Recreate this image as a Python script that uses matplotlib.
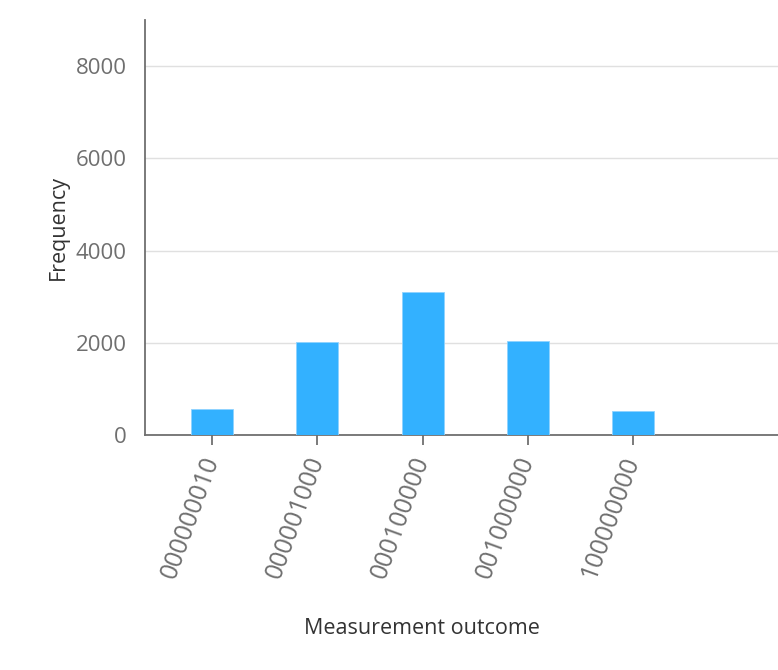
import matplotlib
matplotlib.use('Agg')
import matplotlib.pyplot as plt

# data
outcomes = ['000000010', '000001000', '000100000', '001000000', '100000000']
counts = [560, 2020, 3100, 2040, 520]
y_ticks = [0, 2000, 4000, 6000, 8000]

plt.rcParams['font.family'] = ['Open Sans', 'DejaVu Sans']

fig = plt.figure(figsize=(7.78, 6.70), dpi=100)
ax = fig.add_axes([0.1864, 0.3507, 0.8136, 0.6194])

x = list(range(len(outcomes)))
ax.bar(x, counts, width=0.4, color='#33b1ff', edgecolor='#8fd3ff', linewidth=0.6, zorder=3)

ax.set_xlim(-0.64, 5.38)
ax.set_ylim(0, 9000)
ax.set_yticks(y_ticks)
ax.set_xticks(x)
ax.set_xticklabels(outcomes, rotation=70, rotation_mode='anchor', ha='right', va='center',
                   fontsize=18)

ax.yaxis.grid(True, color='#e0e0e0', linewidth=1, zorder=0)
ax.set_axisbelow(True)

for side in ['top', 'right']:
    ax.spines[side].set_visible(False)
for side in ['left', 'bottom']:
    ax.spines[side].set_color('#6f6f6f')
    ax.spines[side].set_linewidth(1.3)

ax.tick_params(axis='both', colors='#6f6f6f', length=7, width=1.3)
ax.tick_params(axis='y', length=0, pad=13, labelsize=16)
ax.tick_params(axis='x', pad=9)

ax.set_ylabel('Frequency', fontsize=15.5, color='#333333', labelpad=5)
ax.set_xlabel('Measurement outcome', fontsize=15.5, color='#333333')
ax.xaxis.set_label_coords(0.4376, -0.442)

fig.savefig('out.png', dpi=100)
